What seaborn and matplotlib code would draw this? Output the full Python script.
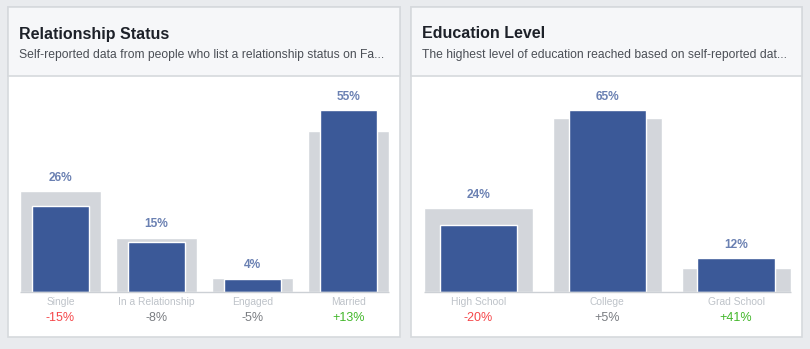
import matplotlib
matplotlib.use("Agg")
import matplotlib.pyplot as plt
from matplotlib.patches import Rectangle
import seaborn as sns
import pandas as pd

# ---- data ----
rel_title = "Relationship Status"
rel_subtitle = "Self-reported data from people who list a relationship status on Fa..."
rel_categories = ["Single", "In a Relationship", "Engaged", "Married"]
rel_audience = [26, 15, 4, 55]
rel_benchmark = [30.5, 16.4, 4.2, 48.8]
rel_diff = [-15, -8, -5, 13]

edu_title = "Education Level"
edu_subtitle = "The highest level of education reached based on self-reported dat..."
edu_categories = ["High School", "College", "Grad School"]
edu_audience = [24, 65, 12]
edu_benchmark = [30, 62.3, 8.5]
edu_diff = [-20, 5, 41]

# ---- style ----
sns.set_theme(style="white")
plt.rcParams["font.family"] = ["Liberation Sans", "DejaVu Sans"]

W, H = 810, 349
BG = "#e9ebee"
CARD_BORDER = "#d6d9dd"
HEADER_BG = "#f6f7f9"
BLUE = "#3b5998"
GRAY = "#d3d6db"
VAL_COLOR = "#6a80b2"
CAT_COLOR = "#bec3c9"
RED = "#f5474a"
GREEN = "#42b72a"
NEUTRAL = "#7a7d82"

fig = plt.figure(figsize=(W / 100, H / 100), dpi=100)
fig.patch.set_facecolor(BG)


def fx(x):
    return x / W


def fy(y):
    return 1 - y / H


def card(x0, x1, y0, y1, yh):
    fig.add_artist(Rectangle((fx(x0), fy(y1)), fx(x1 - x0), (y1 - y0) / H,
                             transform=fig.transFigure, facecolor="white",
                             edgecolor=CARD_BORDER, lw=1.2, zorder=0))
    fig.add_artist(Rectangle((fx(x0), fy(yh)), fx(x1 - x0), (yh - y0) / H,
                             transform=fig.transFigure, facecolor=HEADER_BG,
                             edgecolor=CARD_BORDER, lw=1.2, zorder=0))


def panel(x0, x1, tx, title, subtitle):
    card(x0, x1, 7, 337, 76)
    fig.text(fx(tx), fy(34), title, fontsize=11.5, fontweight="bold",
             color="#1d2129", va="center", ha="left")
    fig.text(fx(tx), fy(55), subtitle, fontsize=8.7, color="#4b4f56",
             va="center", ha="left")


def bars(ax_x0, ax_x1, cats, aud, bench, diff):
    top = 110
    base = 292
    ax = fig.add_axes([fx(ax_x0), fy(base), fx(ax_x1 - ax_x0), (base - top) / H])
    ax.patch.set_alpha(0)
    df = pd.DataFrame({"cat": cats, "aud": aud, "bench": bench})
    sns.barplot(data=df, x="cat", y="bench", order=cats, color=GRAY,
                saturation=1, width=0.845, ax=ax, zorder=1)
    sns.barplot(data=df, x="cat", y="aud", order=cats, color=BLUE,
                saturation=1, width=0.6, ax=ax, zorder=2)
    ax.set_ylim(0, max(max(aud), max(bench)))
    ax.set_xlim(-0.5, len(cats) - 0.5)
    ax.hlines(0, -0.4225, len(cats) - 1 + 0.4225, color="#ccd0d5", lw=1,
              zorder=3, clip_on=False)
    for s in ax.spines.values():
        s.set_visible(False)
    ax.set_xticks([])
    ax.set_yticks([])
    ax.set_xlabel("")
    ax.set_ylabel("")
    for i, (a, b, d) in enumerate(zip(aud, bench, diff)):
        ax.annotate(f"{a}%", xy=(i, max(a, b)), xytext=(0, 9.6),
                    textcoords="offset points", ha="center", va="center",
                    fontsize=8.6, fontweight="bold", color=VAL_COLOR,
                    annotation_clip=False)
        ax.annotate(cats[i], xy=(i, 0), xytext=(0, -7.4),
                    textcoords="offset points", ha="center", va="center",
                    fontsize=7.4, color=CAT_COLOR, annotation_clip=False)
        col = RED if d <= -10 else (GREEN if d >= 10 else NEUTRAL)
        txt = f"+{d}%" if d > 0 else f"{d}%"
        ax.annotate(txt, xy=(i, 0), xytext=(0, -19),
                    textcoords="offset points", ha="center", va="center",
                    fontsize=9, color=col, annotation_clip=False)
    return ax


panel(8, 400, 19, rel_title, rel_subtitle)
panel(411, 802, 422, edu_title, edu_subtitle)
bars(12.5, 396.5, rel_categories, rel_audience, rel_benchmark, rel_diff)
bars(414, 800.5, edu_categories, edu_audience, edu_benchmark, edu_diff)

fig.savefig("out.png", dpi=100, facecolor=fig.get_facecolor())
